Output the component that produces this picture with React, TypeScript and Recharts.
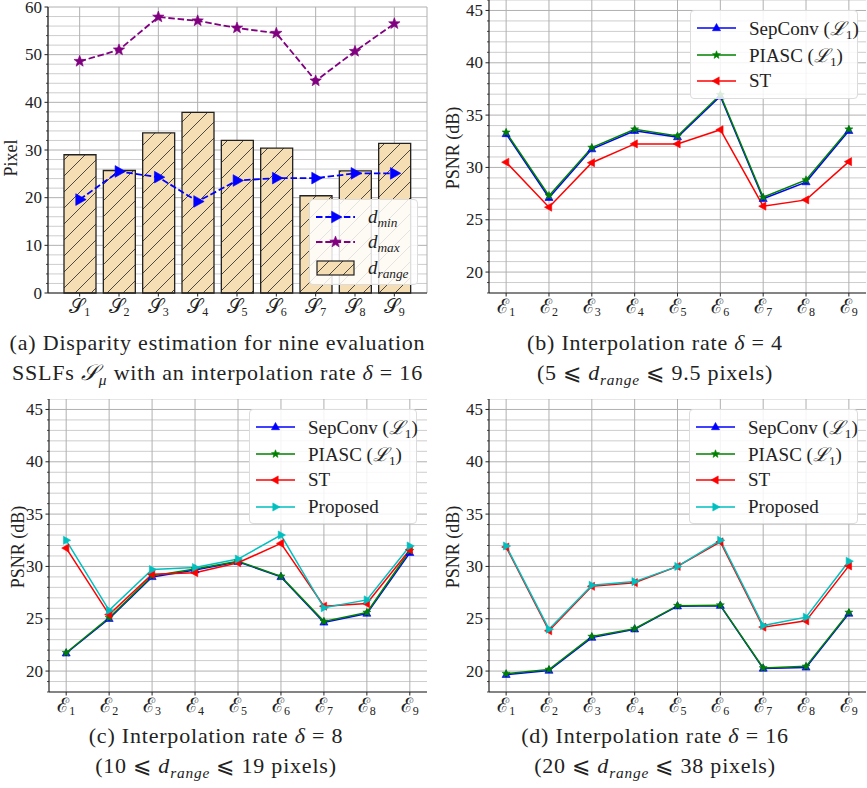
import React from 'react';
import {
  ComposedChart,
  LineChart,
  Line,
  Bar,
  XAxis,
  YAxis,
  CartesianGrid,
  Legend,
} from 'recharts';

// ---- data ----
const SUBSCRIPTS = ['1', '2', '3', '4', '5', '6', '7', '8', '9'];
const EVAL_INDEX = [0, 1, 2, 3, 4, 5, 6, 7, 8];

// (a) disparity per SSLF
const D_MIN = [19.6, 25.5, 24.3, 19.2, 23.6, 24.1, 24.1, 25.1, 25.1];
const D_MAX = [48.6, 51.0, 57.9, 57.1, 55.6, 54.5, 44.5, 50.7, 56.5];
const D_RANGE = [29.0, 25.7, 33.6, 37.9, 32.0, 30.4, 20.4, 25.6, 31.4];

// (b) delta = 4
const SEPCONV_4 = [33.2, 27.1, 31.75, 33.5, 32.9, 36.8, 27.0, 28.6, 33.5];
const PIASC_4 = [33.35, 27.3, 31.9, 33.65, 33.0, 36.95, 27.15, 28.8, 33.65];
const ST_4 = [30.5, 26.2, 30.45, 32.25, 32.25, 33.6, 26.3, 26.9, 30.55];

// (c) delta = 8
const SEPCONV_8 = [21.7, 25.0, 29.0, 29.65, 30.45, 29.0, 24.65, 25.5, 31.3];
const PIASC_8 = [21.75, 25.1, 29.1, 29.75, 30.5, 29.05, 24.75, 25.6, 31.5];
const ST_8 = [31.75, 25.4, 29.25, 29.4, 30.35, 32.2, 26.2, 26.45, 31.6];
const PROPOSED_8 = [32.5, 25.8, 29.7, 29.9, 30.7, 33.0, 26.05, 26.8, 31.95];

// (d) delta = 16
const SEPCONV_16 = [19.65, 20.05, 23.2, 24.0, 26.2, 26.25, 20.25, 20.35, 25.5];
const PIASC_16 = [19.75, 20.15, 23.3, 24.05, 26.25, 26.3, 20.3, 20.45, 25.6];
const ST_16 = [31.85, 23.85, 28.1, 28.45, 30.0, 32.35, 24.2, 24.8, 30.05];
const PROPOSED_16 = [31.95, 24.0, 28.2, 28.55, 30.0, 32.5, 24.35, 25.15, 30.5];

// ticks
const PIXEL_MAJOR = [0, 10, 20, 30, 40, 50, 60];
const PIXEL_MINOR = [2, 4, 6, 8, 12, 14, 16, 18, 22, 24, 26, 28, 32, 34, 36, 38, 42, 44, 46, 48, 52, 54, 56, 58];
const PSNR_MAJOR = [20, 25, 30, 35, 40, 45];
const PSNR_MINOR = [18, 19, 21, 22, 23, 24, 26, 27, 28, 29, 31, 32, 33, 34, 36, 37, 38, 39, 41, 42, 43, 44, 46];

const FONT = "'Liberation Serif', 'DejaVu Serif', serif";
const INK = '#222';
const GRID_MAJOR = '#b0b0b0';
const GRID_MINOR = '#cdcdcd';

// ---- markers ----
function triUp(cx: number, cy: number, s: number) {
  return `M${cx},${cy - s} L${cx + s * 0.9},${cy + s * 0.6} L${cx - s * 0.9},${cy + s * 0.6} Z`;
}
function triLeft(cx: number, cy: number, s: number) {
  return `M${cx - s},${cy} L${cx + s * 0.6},${cy - s * 0.9} L${cx + s * 0.6},${cy + s * 0.9} Z`;
}
function triRight(cx: number, cy: number, s: number) {
  return `M${cx + s},${cy} L${cx - s * 0.6},${cy - s * 0.9} L${cx - s * 0.6},${cy + s * 0.9} Z`;
}
function star(cx: number, cy: number, r: number) {
  const pts: string[] = [];
  for (let k = 0; k < 10; k++) {
    const rad = k % 2 === 0 ? r : r * 0.42;
    const a = -Math.PI / 2 + (k * Math.PI) / 5;
    pts.push(`${cx + rad * Math.cos(a)},${cy + rad * Math.sin(a)}`);
  }
  return `M${pts.join(' L')} Z`;
}

type Shape = (cx: number, cy: number, s: number) => string;

function markerDot(shape: Shape, size: number, color: string) {
  return (p: any) => {
    if (p.cx == null || p.cy == null) return <g key={p.index} />;
    return <path key={p.index} d={shape(p.cx, p.cy, size)} fill={color} stroke={color} strokeWidth={0.6} />;
  };
}

// ---- ticks ----
function YTick(props: any) {
  const { x, y, payload, major } = props;
  const isMajor = major.includes(payload.value);
  return (
    <g>
      <line x1={x - (isMajor ? 3.5 : 2)} x2={x} y1={y} y2={y} stroke={INK} strokeWidth={isMajor ? 1 : 0.8} />
      {isMajor && (
        <text x={x - 6} y={y} dy={5.5} textAnchor="end" fontSize={17} fontFamily={FONT} fill={INK}>
          {payload.value}
        </text>
      )}
    </g>
  );
}

function XTick(props: any) {
  const { x, y, payload, letter } = props;
  const sub = typeof payload.value === 'number' ? SUBSCRIPTS[payload.value] : payload.value;
  return (
    <g>
      <line x1={x} x2={x} y1={y} y2={y + 3.5} stroke={INK} strokeWidth={1} />
      <text x={x} y={y + 20} textAnchor="middle" fontFamily={FONT} fill={INK}>
        <tspan fontSize={20}>{letter}</tspan>
        <tspan fontSize={12} dy={3}>{sub}</tspan>
      </text>
    </g>
  );
}

// ---- legends ----
const subStyle: React.CSSProperties = { fontSize: '70%', verticalAlign: '-0.3em', lineHeight: 0 };

interface LegendItem {
  color: string;
  shape?: Shape;
  size?: number;
  dashed?: boolean;
  patch?: boolean;
  label: React.ReactNode;
}

function LegendBox({ items, width, rowH, labelLeft }: { items: LegendItem[]; width: number; rowH: number; labelLeft: number }) {
  return (
    <div
      style={{
        width,
        boxSizing: 'border-box',
        border: '1px solid #dcdcdc',
        borderRadius: 4,
        background: 'rgba(255,255,255,0.85)',
        padding: '4px 0 3px 0',
        fontFamily: FONT,
        color: INK,
        fontSize: 19,
      }}
    >
      {items.map((it, i) => (
        <div key={i} style={{ height: rowH, display: 'flex', alignItems: 'center', position: 'relative' }}>
          <svg width={40} height={16} style={{ position: 'absolute', left: 6, top: (rowH - 16) / 2 }}>
            <defs>
              <pattern id={`lg-hatch-${i}`} patternUnits="userSpaceOnUse" width={14} height={14}>
                <rect width={14} height={14} fill="#f5deb3" />
                <path d="M0,14 L14,0 M-3,3 L3,-3 M11,17 L17,11" stroke="#222" strokeWidth={0.8} />
              </pattern>
            </defs>
            {it.patch ? (
              <rect x={1} y={1} width={37} height={14} fill={`url(#lg-hatch-${i})`} stroke="#222" strokeWidth={1.2} />
            ) : (
              <>
                <line
                  x1={0}
                  x2={39}
                  y1={8}
                  y2={8}
                  stroke={it.color}
                  strokeWidth={it.dashed ? 1.8 : 1.5}
                  strokeDasharray={it.dashed ? '6.5 2.8' : undefined}
                />
                {it.shape && <path d={it.shape(19.5, 8, it.size || 4)} fill={it.color} stroke={it.color} strokeWidth={0.6} />}
              </>
            )}
          </svg>
          <span style={{ marginLeft: labelLeft, whiteSpace: 'nowrap' }}>{it.label}</span>
        </div>
      ))}
    </div>
  );
}

const L1 = (
  <>
    (<span style={{ fontStyle: 'italic' }}>ℒ</span>
    <span style={subStyle}>1</span>)
  </>
);

const SEP_ITEM: LegendItem = { color: '#0000ff', shape: triUp, size: 4.5, label: <>SepConv {L1}</> };
const PIASC_ITEM: LegendItem = { color: '#008000', shape: star, size: 4.2, label: <>PIASC {L1}</> };
const ST_ITEM: LegendItem = { color: '#ff0000', shape: triLeft, size: 4.5, label: 'ST' };
const PROP_ITEM: LegendItem = { color: '#00bfbf', shape: triRight, size: 4.5, label: 'Proposed' };

// ---- PSNR panel ----
interface PsnrSeries {
  key: string;
  values: number[];
  color: string;
  shape: Shape;
  size: number;
}

function PsnrPanel({
  left,
  top,
  width,
  yAxisWidth,
  rightMargin,
  series,
  legendItems,
  legendLeft,
  legendWidth,
}: {
  left: number;
  top: number;
  width: number;
  yAxisWidth: number;
  rightMargin: number;
  series: PsnrSeries[];
  legendItems: LegendItem[];
  legendLeft: number;
  legendWidth: number;
}) {
  const data = EVAL_INDEX.map((x, i) => {
    const row: Record<string, number> = { x };
    series.forEach((s) => (row[s.key] = s.values[i]));
    return row;
  });
  return (
    <div style={{ position: 'absolute', left, top, width, height: 320 }}>
      <LineChart
        width={width}
        height={320}
        data={data}
        margin={{ top: 0, right: rightMargin, bottom: 0, left: 0 }}
        style={{ overflow: 'visible' }}
      >
        <CartesianGrid horizontalValues={PSNR_MINOR} vertical={false} stroke={GRID_MINOR} strokeWidth={1} />
        <CartesianGrid horizontalValues={PSNR_MAJOR} verticalValues={EVAL_INDEX} stroke={GRID_MAJOR} strokeWidth={1} />
        <XAxis
          dataKey="x"
          type="number"
          domain={[-0.4, 8.4]}
          ticks={EVAL_INDEX}
          interval={0}
          height={27}
          tickSize={0}
          tickMargin={0}
          tickLine={false}
          axisLine={{ stroke: INK, strokeWidth: 1.2 }}
          tick={(p: any) => <XTick {...p} letter="ℰ" />}
        />
        <XAxis xAxisId="top" orientation="top" height={0} tick={false} axisLine={{ stroke: INK, strokeWidth: 1.2 }} />
        <YAxis
          type="number"
          domain={[18, 46]}
          ticks={[...PSNR_MINOR, ...PSNR_MAJOR].sort((a, b) => a - b)}
          interval={0}
          width={yAxisWidth}
          tickSize={0}
          tickMargin={0}
          tickLine={false}
          axisLine={{ stroke: INK, strokeWidth: 1.2 }}
          tick={(p: any) => <YTick {...p} major={PSNR_MAJOR} />}
        />
        <YAxis yAxisId="right" orientation="right" width={0} tick={false} axisLine={{ stroke: INK, strokeWidth: 1.2 }} />
        {series.map((s) => (
          <Line
            key={s.key}
            dataKey={s.key}
            stroke={s.color}
            strokeWidth={1.5}
            dot={markerDot(s.shape, s.size, s.color)}
            activeDot={false}
            isAnimationActive={false}
          />
        ))}
        <Legend
          layout="horizontal"
          verticalAlign="middle"
          align="center"
          wrapperStyle={{ left: legendLeft, top: 10, width: legendWidth, height: 'auto' }}
          content={() => <LegendBox items={legendItems} width={legendWidth} rowH={26.5} labelLeft={58} />}
        />
      </LineChart>
      <div
        style={{
          position: 'absolute',
          left: 18 - 60,
          top: 148 - 10,
          width: 120,
          textAlign: 'center',
          transform: 'rotate(-90deg)',
          fontFamily: FONT,
          fontSize: 18,
          color: INK,
          lineHeight: '20px',
        }}
      >
        PSNR (dB)
      </div>
    </div>
  );
}

// ---- disparity panel ----
function DisparityPanel() {
  const data = SUBSCRIPTS.map((name, i) => ({ name, dmin: D_MIN[i], dmax: D_MAX[i], range: D_RANGE[i] }));
  const items: LegendItem[] = [
    {
      color: '#0000ff',
      shape: triRight,
      size: 6.5,
      dashed: true,
      label: (
        <span style={{ fontStyle: 'italic' }}>
          d<span style={subStyle}>min</span>
        </span>
      ),
    },
    {
      color: '#800080',
      shape: star,
      size: 6,
      dashed: true,
      label: (
        <span style={{ fontStyle: 'italic' }}>
          d<span style={subStyle}>max</span>
        </span>
      ),
    },
    {
      color: '#f5deb3',
      patch: true,
      label: (
        <span style={{ fontStyle: 'italic' }}>
          d<span style={subStyle}>range</span>
        </span>
      ),
    },
  ];
  return (
    <div style={{ position: 'absolute', left: 0, top: 0, width: 435, height: 320 }}>
      <ComposedChart
        width={435}
        height={320}
        data={data}
        margin={{ top: 7, right: 8, bottom: 0, left: 0 }}
        style={{ overflow: 'visible' }}
      >
        <defs>
          <pattern id="bar-hatch" patternUnits="userSpaceOnUse" width={16} height={16}>
            <rect width={16} height={16} fill="#f5deb3" />
            <path d="M0,16 L16,0 M-4,4 L4,-4 M12,20 L20,12" stroke="#222" strokeWidth={0.8} />
          </pattern>
        </defs>
        <CartesianGrid horizontalValues={PIXEL_MINOR} vertical={false} stroke={GRID_MINOR} strokeWidth={1} />
        <CartesianGrid horizontalValues={PIXEL_MAJOR} stroke={GRID_MAJOR} strokeWidth={1} />
        <XAxis
          dataKey="name"
          type="category"
          padding={{ left: 12, right: 13 }}
          interval={0}
          height={27}
          tickSize={0}
          tickMargin={0}
          tickLine={false}
          axisLine={{ stroke: INK, strokeWidth: 1.2 }}
          tick={(p: any) => <XTick {...p} letter="𝒮" />}
        />
        <XAxis xAxisId="top" orientation="top" height={0} tick={false} axisLine={{ stroke: INK, strokeWidth: 1.2 }} />
        <YAxis
          type="number"
          domain={[0, 60]}
          ticks={[...PIXEL_MINOR, ...PIXEL_MAJOR].sort((a, b) => a - b)}
          interval={0}
          width={48}
          tickSize={0}
          tickMargin={0}
          tickLine={false}
          axisLine={{ stroke: INK, strokeWidth: 1.2 }}
          tick={(p: any) => <YTick {...p} major={PIXEL_MAJOR} />}
        />
        <YAxis yAxisId="right" orientation="right" width={0} tick={false} axisLine={{ stroke: INK, strokeWidth: 1.2 }} />
        <Bar dataKey="range" barSize={32} fill="url(#bar-hatch)" stroke="#222" strokeWidth={1.3} isAnimationActive={false} />
        <Line
          dataKey="dmin"
          stroke="#0000ff"
          strokeWidth={1.8}
          strokeDasharray="6.5 2.8"
          dot={markerDot(triRight, 6.5, '#0000ff')}
          activeDot={false}
          isAnimationActive={false}
        />
        <Line
          dataKey="dmax"
          stroke="#800080"
          strokeWidth={1.8}
          strokeDasharray="6.5 2.8"
          dot={markerDot(star, 6, '#800080')}
          activeDot={false}
          isAnimationActive={false}
        />
        <Legend
          layout="horizontal"
          verticalAlign="middle"
          align="center"
          wrapperStyle={{ left: 309, top: 199, width: 109, height: 'auto' }}
          content={() => <LegendBox items={items} width={109} rowH={25.5} labelLeft={58} />}
        />
      </ComposedChart>
      <div
        style={{
          position: 'absolute',
          left: 11 - 40,
          top: 158 - 10,
          width: 80,
          textAlign: 'center',
          transform: 'rotate(-90deg)',
          fontFamily: FONT,
          fontSize: 18,
          color: INK,
          lineHeight: '20px',
        }}
      >
        Pixel
      </div>
    </div>
  );
}

function Caption({ left, top, width, lines }: { left: number; top: number; width: number; lines: React.ReactNode[] }) {
  return (
    <div
      style={{
        position: 'absolute',
        left,
        top,
        width,
        textAlign: 'center',
        fontFamily: FONT,
        fontSize: 22,
        letterSpacing: '0.8px',
        color: INK,
        lineHeight: '30px',
        whiteSpace: 'nowrap',
      }}
    >
      {lines.map((l, i) => (
        <div key={i}>{l}</div>
      ))}
    </div>
  );
}

const it = (s: React.ReactNode) => <span style={{ fontStyle: 'italic' }}>{s}</span>;
const dRange = (
  <span style={{ fontStyle: 'italic' }}>
    d<span style={subStyle}>range</span>
  </span>
);

export default function App() {
  return (
    <div style={{ position: 'absolute', left: 0, top: 0, width: 867, height: 788, background: '#fff', overflow: 'hidden' }}>
      <DisparityPanel />
      <PsnrPanel
        left={435}
        top={0}
        width={432}
        yAxisWidth={54}
        rightMargin={1}
        series={[
          { key: 'sep', values: SEPCONV_4, color: '#0000ff', shape: triUp, size: 4.5 },
          { key: 'piasc', values: PIASC_4, color: '#008000', shape: star, size: 4.2 },
          { key: 'st', values: ST_4, color: '#ff0000', shape: triLeft, size: 4.5 },
        ]}
        legendItems={[SEP_ITEM, PIASC_ITEM, ST_ITEM]}
        legendLeft={255}
        legendWidth={168}
      />
      <PsnrPanel
        left={0}
        top={399}
        width={435}
        yAxisWidth={49}
        rightMargin={8}
        series={[
          { key: 'sep', values: SEPCONV_8, color: '#0000ff', shape: triUp, size: 4.5 },
          { key: 'piasc', values: PIASC_8, color: '#008000', shape: star, size: 4.2 },
          { key: 'st', values: ST_8, color: '#ff0000', shape: triLeft, size: 4.5 },
          { key: 'prop', values: PROPOSED_8, color: '#00bfbf', shape: triRight, size: 4.5 },
        ]}
        legendItems={[SEP_ITEM, PIASC_ITEM, ST_ITEM, PROP_ITEM]}
        legendLeft={249}
        legendWidth={168}
      />
      <PsnrPanel
        left={435}
        top={399}
        width={432}
        yAxisWidth={54}
        rightMargin={1}
        series={[
          { key: 'sep', values: SEPCONV_16, color: '#0000ff', shape: triUp, size: 4.5 },
          { key: 'piasc', values: PIASC_16, color: '#008000', shape: star, size: 4.2 },
          { key: 'st', values: ST_16, color: '#ff0000', shape: triLeft, size: 4.5 },
          { key: 'prop', values: PROPOSED_16, color: '#00bfbf', shape: triRight, size: 4.5 },
        ]}
        legendItems={[SEP_ITEM, PIASC_ITEM, ST_ITEM, PROP_ITEM]}
        legendLeft={254}
        legendWidth={169}
      />
      <Caption
        left={0}
        top={328}
        width={435}
        lines={[
          '(a) Disparity estimation for nine evaluation',
          <>
            SSLFs {it('𝒮')}
            <span style={{ ...subStyle, fontStyle: 'italic' }}>μ</span> with an interpolation rate {it('δ')} = 16
          </>,
        ]}
      />
      <Caption
        left={435}
        top={328}
        width={440}
        lines={[<>(b) Interpolation rate {it('δ')} = 4</>, <>(5 ⩽ {dRange} ⩽ 9.5 pixels)</>]}
      />
      <Caption
        left={0}
        top={721}
        width={432}
        lines={[<>(c) Interpolation rate {it('δ')} = 8</>, <>(10 ⩽ {dRange} ⩽ 19 pixels)</>]}
      />
      <Caption
        left={435}
        top={721}
        width={440}
        lines={[<>(d) Interpolation rate {it('δ')} = 16</>, <>(20 ⩽ {dRange} ⩽ 38 pixels)</>]}
      />
    </div>
  );
}
